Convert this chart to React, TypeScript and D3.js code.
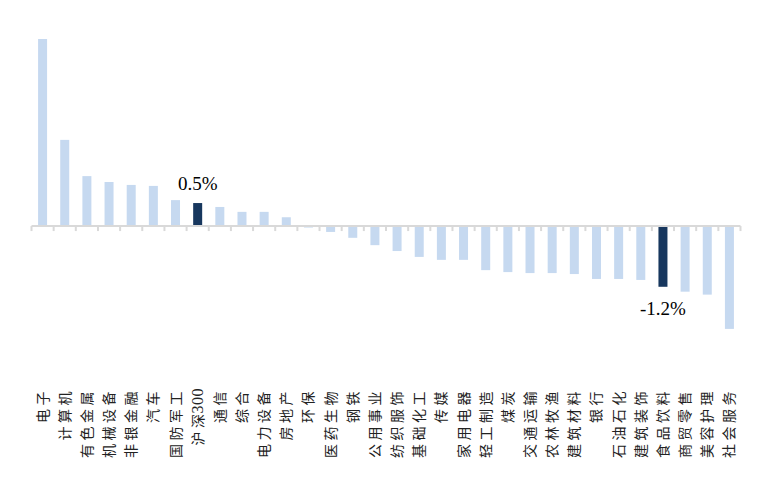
import React from "react";
import * as d3 from "d3";

const categories = ["电子","计算机","有色金属","机械设备","非银金融","汽车","国防军工","沪深300","通信","综合","电力设备","房地产","环保","医药生物","钢铁","公用事业","纺织服饰","基础化工","传媒","家用电器","轻工制造","煤炭","交通运输","农林牧渔","建筑材料","银行","石油石化","建筑装饰","食品饮料","商贸零售","美容护理","社会服务"];
const values = [3.82,1.76,1.02,0.9,0.84,0.82,0.53,0.47,0.39,0.29,0.29,0.18,-0.03,-0.12,-0.24,-0.39,-0.51,-0.63,-0.69,-0.69,-0.9,-0.94,-0.96,-0.96,-0.98,-1.08,-1.08,-1.1,-1.24,-1.34,-1.4,-2.1];
const highlighted = ["沪深300","食品饮料"];
const annotations = [{ name: "沪深300", text: "0.5%" }, { name: "食品饮料", text: "-1.2%" }];

export default function App() {
  const W = 760, H = 490;
  const band = d3.scaleBand<string>().domain(categories).range([31.5, 740.5]);
  const y = d3.scaleLinear().domain([-2.1, 3.82]).range([328.9, 39]);
  const y0 = y(0);
  const light = "#c6d9f0";
  const dark = "#17375e";
  return (
    <svg width={W} height={H} style={{ position: "absolute", left: 0, top: 0 }}>
      <rect width={W} height={H} fill="#fff" />
      {categories.map((c, i) => {
        const v = values[i];
        const bx = band(c)! + band.bandwidth() / 2 - 4.5;
        return (
          <rect key={c} x={bx} width={9} y={Math.min(y(v), y0)} height={Math.abs(y(v) - y0)}
            fill={highlighted.includes(c) ? dark : light} />
        );
      })}
      <line x1={31.5} x2={740.5} y1={y0} y2={y0} stroke="#d9d9d9" strokeWidth={2} />
      {d3.range(categories.length + 1).map(i => {
        const tx = 31.5 + i * band.step();
        return <line key={i} x1={tx} x2={tx} y1={y0} y2={y0 + 5} stroke="#d9d9d9" strokeWidth={2} />;
      })}
      {annotations.map(a => {
        const i = categories.indexOf(a.name);
        const v = values[i];
        const cx = band(a.name)! + band.bandwidth() / 2;
        const ty = v >= 0 ? y(v) - 13 : y(v) + 28;
        return (
          <text key={a.name} x={cx} y={ty} textAnchor="middle" fontFamily="'Liberation Serif', serif" fontSize={19} fill="#000">{a.text}</text>
        );
      })}
      {categories.map(c => {
        const cx = band(c)! + band.bandwidth() / 2 + 5;
        const chars = Array.from(c);
        return (
          <text key={c} transform={`translate(${cx},388) rotate(-90)`} textAnchor="end"
            fontFamily="'Noto Sans CJK SC', 'Liberation Serif', serif" fontSize={14} fill="#222">
            {chars.map((ch, k) => {
              const isDigit = /[0-9]/.test(ch);
              const nextDigit = k + 1 < chars.length && /[0-9]/.test(chars[k + 1]);
              return <tspan key={k} letterSpacing={isDigit || nextDigit ? 0.5 : 3.5} fontFamily={isDigit ? "'Liberation Serif', serif" : undefined} fontSize={isDigit ? 16 : undefined}>{ch}</tspan>;
            })}
          </text>
        );
      })}
    </svg>
  );
}
